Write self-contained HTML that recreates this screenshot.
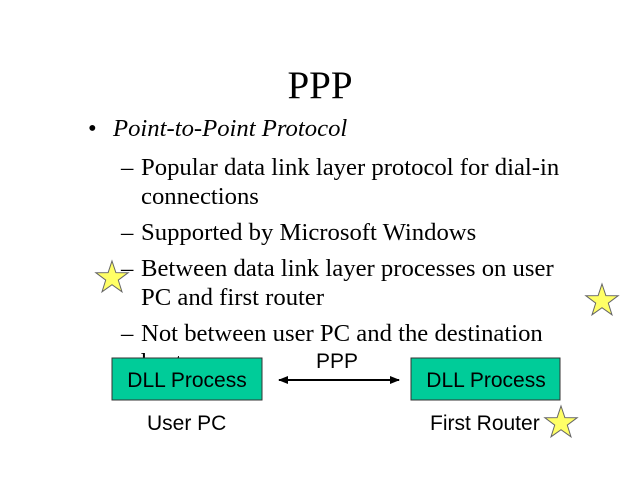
<!DOCTYPE html>
<html><head><meta charset="utf-8"><style>
html,body{margin:0;padding:0;background:#fff;width:640px;height:480px;overflow:hidden}
svg{display:block}
.t{font-family:"Liberation Serif",serif;font-size:24.7px;fill:#000}
.h{font-family:"Liberation Sans",sans-serif;font-size:21px;fill:#000}
</style></head><body>
<svg width="640" height="480" viewBox="0 0 640 480" xmlns="http://www.w3.org/2000/svg">
<defs>
<polygon id="star" points="0,-17 3.9,-5.4 16.2,-5.3 6.3,2.1 10,13.8 0,6.7 -10,13.8 -6.3,2.1 -16.2,-5.3 -3.9,-5.4" fill="#ffff66" stroke="#666" stroke-width="1"/>
<marker id="a" markerWidth="10" markerHeight="8" refX="9" refY="4" orient="auto-start-reverse" markerUnits="userSpaceOnUse"><path d="M0,0 L10,4 L0,8 Z" fill="#000"/></marker>
</defs>
<text x="320" y="98" text-anchor="middle" style="font-family:'Liberation Serif',serif;font-size:39px">PPP</text>
<text class="t" x="88" y="136">•</text>
<text class="t" x="113" y="136" font-style="italic">Point-to-Point Protocol</text>
<text class="t" x="121" y="175">–</text>
<text class="t" x="141" y="175">Popular data link layer protocol for dial-in</text>
<text class="t" x="141" y="204">connections</text>
<text class="t" x="121" y="240">–</text>
<text class="t" x="141" y="240">Supported by Microsoft Windows</text>
<text class="t" x="121" y="276">–</text>
<text class="t" x="141" y="276">Between data link layer processes on user</text>
<text class="t" x="141" y="305">PC and first router</text>
<text class="t" x="121" y="341">–</text>
<text class="t" x="141" y="341">Not between user PC and the destination</text>
<text class="t" x="141" y="370">hosts</text>
<rect x="100" y="359" width="480" height="32" fill="#fff"/>
<use href="#star" x="112" y="278"/>
<use href="#star" x="602" y="301"/>
<rect x="112" y="358" width="150" height="42" fill="#00cc99" stroke="#333" stroke-width="1"/>
<rect x="411" y="358" width="149" height="42" fill="#00cc99" stroke="#333" stroke-width="1"/>
<text class="h" x="187" y="387" text-anchor="middle">DLL Process</text>
<text class="h" x="486" y="387" text-anchor="middle">DLL Process</text>
<text class="h" x="337" y="368" text-anchor="middle">PPP</text>
<line x1="279" y1="380" x2="399" y2="380" stroke="#000" stroke-width="2" marker-start="url(#a)" marker-end="url(#a)"/>
<text class="h" x="147" y="430">User PC</text>
<text class="h" x="430" y="430">First Router</text>
<use href="#star" x="561" y="423"/>
</svg>
</body></html>
